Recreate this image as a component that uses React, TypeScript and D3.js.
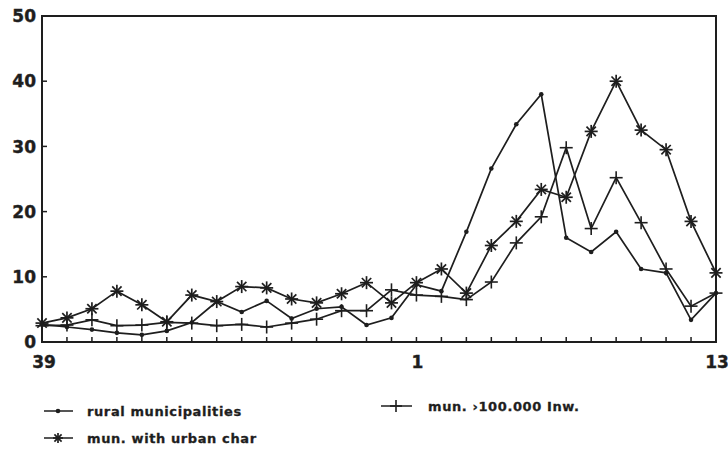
import React from "react";
import * as d3 from "d3";

const weeks = [39, 40, 41, 42, 43, 44, 45, 46, 47, 48, 49, 50, 51, 52, 53, 1, 2, 3, 4, 5, 6, 7, 8, 9, 10, 11, 12, 13];
const tickLabels = ["39", "1", "13"];
const yTicks = [0, 10, 20, 30, 40, 50];

const rural = [2.7, 2.3, 1.9, 1.4, 1.1, 1.7, 3.0, 6.2, 4.6, 6.3, 3.6, 5.1, 5.4, 2.6, 3.7, 8.8, 7.8, 16.9, 26.6, 33.4, 38.0, 16.0, 13.8, 16.9, 11.2, 10.6, 3.4, 7.5];
const urban = [2.9, 3.7, 5.1, 7.8, 5.7, 3.1, 7.2, 6.2, 8.5, 8.3, 6.6, 6.0, 7.4, 9.1, 6.0, 9.1, 11.2, 7.5, 14.8, 18.5, 23.4, 22.2, 32.3, 40.0, 32.5, 29.5, 18.5, 10.6];
const large = [2.5, 2.6, 3.4, 2.5, 2.6, 3.0, 2.9, 2.5, 2.7, 2.3, 2.9, 3.5, 4.8, 4.8, 8.0, 7.2, 7.0, 6.5, 9.2, 15.2, 19.2, 29.8, 17.4, 25.2, 18.3, 11.2, 5.5, 7.5];

const legendLabels = ["rural municipalities", "mun. with urban char", "mun. \u203a100.000 Inw."];

const INK = "#1e1e1e";

function Dot({ x, y }: { x: number; y: number }) {
  return <circle cx={x} cy={y} r={2.3} fill={INK} />;
}
function Star({ x, y, r = 6.5 }: { x: number; y: number; r?: number }) {
  const d = r * 0.72;
  return (
    <g stroke={INK} strokeWidth={1.7}>
      <line x1={x - r} y1={y} x2={x + r} y2={y} />
      <line x1={x} y1={y - r} x2={x} y2={y + r} />
      <line x1={x - d} y1={y - d} x2={x + d} y2={y + d} />
      <line x1={x - d} y1={y + d} x2={x + d} y2={y - d} />
    </g>
  );
}
function Plus({ x, y, r = 6.5 }: { x: number; y: number; r?: number }) {
  return (
    <g stroke={INK} strokeWidth={1.6}>
      <line x1={x - r} y1={y} x2={x + r} y2={y} />
      <line x1={x} y1={y - r} x2={x} y2={y + r} />
    </g>
  );
}

export default function App() {
  const W = 728, H = 452;
  const left = 42, right = 716, top = 16, bottom = 342;
  const x = d3.scaleLinear().domain([0, weeks.length - 1]).range([left, right]);
  const y = d3.scaleLinear().domain([0, 50]).range([bottom, top]);
  const line = d3.line<number>().x((_, i) => x(i)).y((v) => y(v));
  const font = "'DejaVu Sans', sans-serif";

  return (
    <svg width={W} height={H} style={{ position: "absolute", left: 0, top: 0, background: "#fff" }}>
      <rect x={left} y={top} width={right - left} height={bottom - top} fill="none" stroke={INK} strokeWidth={2} />
      {weeks.map((w, i) => (
        <line key={"xt" + i} x1={x(i)} x2={x(i)} y1={bottom} y2={bottom - 5} stroke={INK} strokeWidth={1.5} />
      ))}
      {yTicks.slice(1, -1).map((t) => (
        <line key={"yt" + t} x1={left} x2={left + 5} y1={y(t)} y2={y(t)} stroke={INK} strokeWidth={1.5} />
      ))}
      {yTicks.map((t) => (
        <text key={"yl" + t} x={36} y={y(t)} dy="0.36em" textAnchor="end" fontFamily={font} fontWeight="bold" fontSize={17} fill={INK} stroke={INK} strokeWidth={0.4}>
          {t}
        </text>
      ))}
      {weeks.map((w, i) =>
        tickLabels.includes(String(w)) ? (
          <text key={"xl" + i} x={x(i) + (i === 0 ? 2 : i === weeks.length - 1 ? 1 : 1)} y={368} textAnchor="middle" fontFamily={font} fontWeight="bold" fontSize={17} fill={INK} stroke={INK} strokeWidth={0.4}>
            {w}
          </text>
        ) : null
      )}

      <path d={line(rural) || ""} fill="none" stroke={INK} strokeWidth={1.7} />
      <path d={line(urban) || ""} fill="none" stroke={INK} strokeWidth={1.7} />
      <path d={line(large) || ""} fill="none" stroke={INK} strokeWidth={1.7} />
      {rural.map((v, i) => <Dot key={"r" + i} x={x(i)} y={y(v)} />)}
      {urban.map((v, i) => <Star key={"u" + i} x={x(i)} y={y(v)} />)}
      {large.map((v, i) => <Plus key={"l" + i} x={x(i)} y={y(v)} />)}

      {/* legend */}
      <g fontFamily={font} fontWeight="bold" fontSize={13} letterSpacing={0.6} fill={INK}>
        <line x1={44} x2={73} y1={411} y2={411} stroke={INK} strokeWidth={1.5} />
        <Dot x={58} y={411} />
        <text x={87} y={411} dy="0.36em" stroke={INK} strokeWidth={0.3}>{legendLabels[0]}</text>
        <line x1={44} x2={73} y1={438} y2={438} stroke={INK} strokeWidth={1.5} />
        <Star x={58} y={438} r={5} />
        <text x={87} y={438} dy="0.36em" stroke={INK} strokeWidth={0.3}>{legendLabels[1]}</text>
        <line x1={381} x2={412} y1={406} y2={406} stroke={INK} strokeWidth={1.5} />
        <Plus x={396} y={406} r={6} />
        <text x={428} y={406} dy="0.36em" stroke={INK} strokeWidth={0.3}>{legendLabels[2]}</text>
      </g>
    </svg>
  );
}
